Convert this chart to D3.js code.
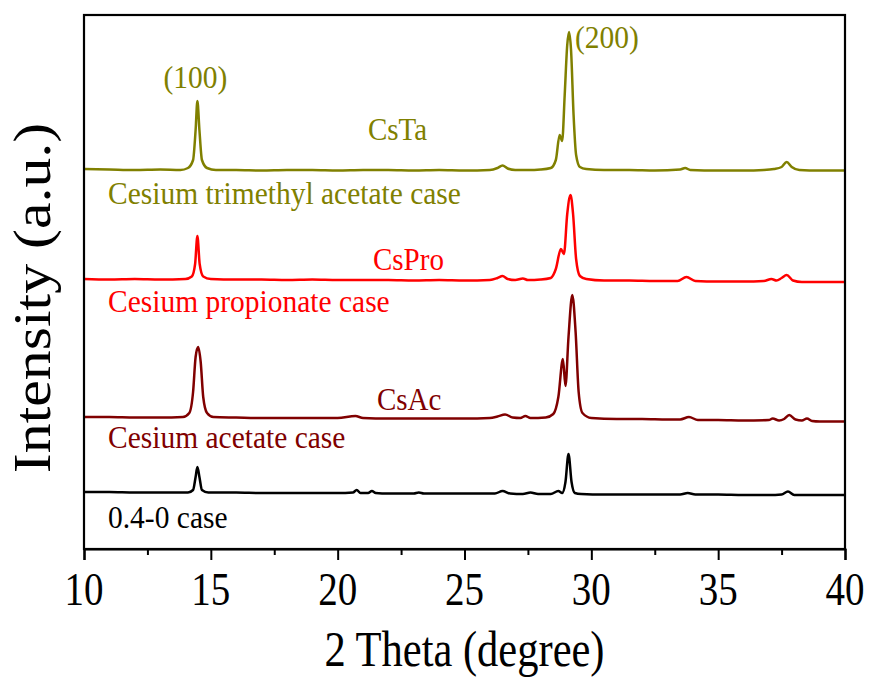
<!DOCTYPE html>
<html>
<head>
<meta charset="utf-8">
<script src="https://cdn.jsdelivr.net/npm/d3@7"></script>
<style>
  html, body { margin: 0; padding: 0; background: #fff; }
  svg { display: block; }
  text { font-family: "Liberation Serif", "Times New Roman", serif; }
</style>
</head>
<body>
<svg id="chart" width="869" height="681"></svg>
<script>
// XRD patterns (2θ, relative intensity above each trace's baseline)
const patternBlank = [
  [10,0],[11,0],[12,-1],[13,-1],[14.1,-1],[14.3,4],[14.4,30],[14.47,50],[14.55,30],[14.65,4],[14.9,-1],
  [16,-1],[17,-2],[18,-2],[19,-2],[20,-2],[20.6,-1],[20.75,4],[20.9,-2],[21.2,-2],[21.35,2],[21.5,-2],
  [22,-3],[23,-3],[23.2,-1],[23.4,-3],[24,-3],[25,-3],[26.2,-3],[26.5,2],[26.8,-3],[27.3,-4],[27.6,-1],
  [27.9,-4],[28.4,-4],[28.7,2],[28.85,-2],[28.98,20],[29.1,76],[29.22,20],[29.35,-2],[29.6,-4],
  [30.5,-5],[31.5,-5],[32.5,-5],[33.5,-5],[33.8,-2],[34.1,-5],[35,-5],[36,-6],[37,-6],[37.5,-5],
  [37.75,1],[38,-6],[39,-6],[40,-6]
];
const patternCsAc = [
  [10,0],[11,0],[12,-1],[13,-1],[13.9,0],[14.15,8],[14.3,50],[14.4,120],[14.5,140],[14.6,110],[14.7,40],
  [14.85,8],[15.1,0],[16,-1],[17,-2],[18,-2],[19,-2],[20,-2],[20.7,2],[21,-2],[22,-3],[23,-3],[24,-3],
  [25,-3],[26,-2],[26.3,1],[26.6,5],[26.9,-1],[27.2,-2],[27.4,2],[27.6,-2],[28.2,-1],[28.5,6],[28.7,40],
  [28.88,116],[28.98,62],[29.1,160],[29.25,244],[29.38,170],[29.5,50],[29.65,8],[30,-2],[31,-4],[32,-4],
  [33,-5],[33.5,-5],[33.85,0],[34.2,-6],[35,-6],[36,-7],[37,-6],[37.15,-3],[37.4,-7],[37.6,-4],[37.8,4],
  [38.05,-5],[38.3,-7],[38.5,-3],[38.7,-8],[39,-9],[40,-9]
];
const patternCsPro = [
  [10,0],[11,-1],[12,0],[13,-1],[14,0],[14.25,5],[14.38,30],[14.47,86],[14.56,30],[14.7,5],[15,0],
  [16,-1],[17,-1],[18,-2],[19,-1],[20,-2],[21,-2],[22,-2],[23,-3],[24,-2],[25,-3],[26,-2],[26.3,2],
  [26.5,6],[26.7,0],[27,-2],[27.3,1],[27.5,-2],[28,-1],[28.4,2],[28.6,20],[28.8,60],[28.92,50],
  [29.05,130],[29.18,168],[29.28,130],[29.4,40],[29.55,6],[29.8,0],[30.5,-3],[31.5,-3],[32.5,-4],
  [33.4,-4],[33.75,4],[34.1,-4],[35,-5],[36,-5],[36.8,-4],[37.1,0],[37.3,-3],[37.5,2],[37.7,8],
  [37.95,-3],[38.3,-6],[39,-6],[40,-6]
];
const patternCsTa = [
  [10,2],[11,1],[12,0],[13,1],[13.8,0],[14.1,4],[14.3,20],[14.4,80],[14.47,138],[14.55,80],[14.65,20],
  [14.85,4],[15.2,0],[16,0],[17,-1],[18,0],[19,0],[20,-1],[21,0],[22,0],[23,-1],[24,0],[25,-1],[26,0],
  [26.3,4],[26.5,9],[26.7,3],[27,0],[27.5,0],[28,1],[28.4,4],[28.6,20],[28.75,70],[28.85,58],[28.95,150],
  [29.05,250],[29.12,276],[29.2,240],[29.3,110],[29.4,30],[29.55,6],[29.8,2],[30.5,0],[31.5,0],
  [32.5,-1],[33.5,1],[33.7,4],[33.9,0],[35,-1],[36,-1],[36.8,0],[37.2,2],[37.5,6],[37.7,16],[37.9,6],
  [38.2,0],[39,-1],[40,-1]
];

const sampleNames   = ["0.4-0 case", "Cesium acetate case", "Cesium propionate case", "Cesium trimethyl acetate case"];
const shortNames    = [null, "CsAc", "CsPro", "CsTa"];
const baselineOffsets = [114, 264, 540, 758];
const seriesColors  = ["#000000", "#800000", "#ff0000", "#808000"];
const patterns      = [patternBlank, patternCsAc, patternCsPro, patternCsTa];

const xTicks = [10, 15, 20, 25, 30, 35, 40];
const xMinorTicks = [12.5, 17.5, 22.5, 27.5, 32.5, 37.5];
const peakLabels = [
  { text: "(100)", x: 14.47, series: 3 },
  { text: "(200)", x: 29.12, series: 3 }
];

const svg = d3.select("#chart");
const margin = { left: 84, right: 24, top: 15, bottom: 132 };
const W = 869, H = 681;
const x0 = margin.left, x1 = W - margin.right;
const y0 = H - margin.bottom, y1 = margin.top;

const x = d3.scaleLinear().domain([10, 40]).range([x0, x1]);
const y = d3.scaleLinear().domain([0, 1068]).range([y0, y1]);

// helper: text with a slight vertical stretch (tall Times-like glyphs)
function label(g, txt, px, py, size, color, anchor, stretch) {
  return g.append("text")
    .attr("transform", `translate(${px},${py}) scale(1,${stretch || 1.1})`)
    .attr("font-size", size)
    .attr("fill", color)
    .attr("text-anchor", anchor || "start")
    .text(txt);
}

// traces
const line = d3.line()
  .x(d => x(d[0]))
  .y(d => y(d[1]))
  .curve(d3.curveMonotoneX);

patterns.forEach((p, i) => {
  svg.append("path")
    .datum(p.map(d => [d[0], d[1] + baselineOffsets[i]]))
    .attr("fill", "none")
    .attr("stroke", seriesColors[i])
    .attr("stroke-width", 2.5)
    .attr("stroke-linejoin", "round")
    .attr("d", line);
});

// frame
svg.append("rect")
  .attr("x", x0).attr("y", y1)
  .attr("width", x1 - x0).attr("height", y0 - y1)
  .attr("fill", "none").attr("stroke", "#000").attr("stroke-width", 2.2);

// bottom axis
const axisG = svg.append("g").attr("transform", `translate(0,${y0})`);
axisG.call(d3.axisBottom(x).tickValues(xTicks).tickSize(11).tickFormat(""))
  .call(g => g.select(".domain").attr("stroke-width", 2.2))
  .call(g => g.selectAll(".tick line").attr("stroke-width", 2));
axisG.append("g")
  .call(d3.axisBottom(x).tickValues(xMinorTicks).tickSize(6).tickFormat(""))
  .call(g => g.select(".domain").remove())
  .call(g => g.selectAll(".tick line").attr("stroke-width", 2));

xTicks.forEach(t => label(svg, String(t), x(t), y0 + 56, 39, "#000", "middle", 1.2));

// axis titles
label(svg, "2 Theta (degree)", (x0 + x1) / 2, 666, 42.5, "#000", "middle", 1.2);
svg.append("text")
  .attr("transform", `translate(50,298) rotate(-90) scale(1.15,1)`)
  .attr("font-size", 52)
  .attr("text-anchor", "middle")
  .attr("fill", "#000")
  .text("Intensity (a.u.)");

// sample names under each trace
const namePos = [528, 448, 312, 204];
sampleNames.forEach((n, i) => label(svg, n, 108, namePos[i], 29.5, seriesColors[i], "start", 1.1));

// short names above the traces
const shortPos = [null, [377, 410], [373, 270], [368, 140]];
shortNames.forEach((n, i) => {
  if (!n) return;
  label(svg, n, shortPos[i][0], shortPos[i][1], 29, seriesColors[i], "start", 1.1);
});

// reflection indices
label(svg, peakLabels[0].text, x(peakLabels[0].x) - 2, 88, 29.5, seriesColors[3], "middle", 1.1);
label(svg, peakLabels[1].text, x(peakLabels[1].x) + 6, 48, 29.5, seriesColors[3], "start", 1.1);
</script>
</body>
</html>
